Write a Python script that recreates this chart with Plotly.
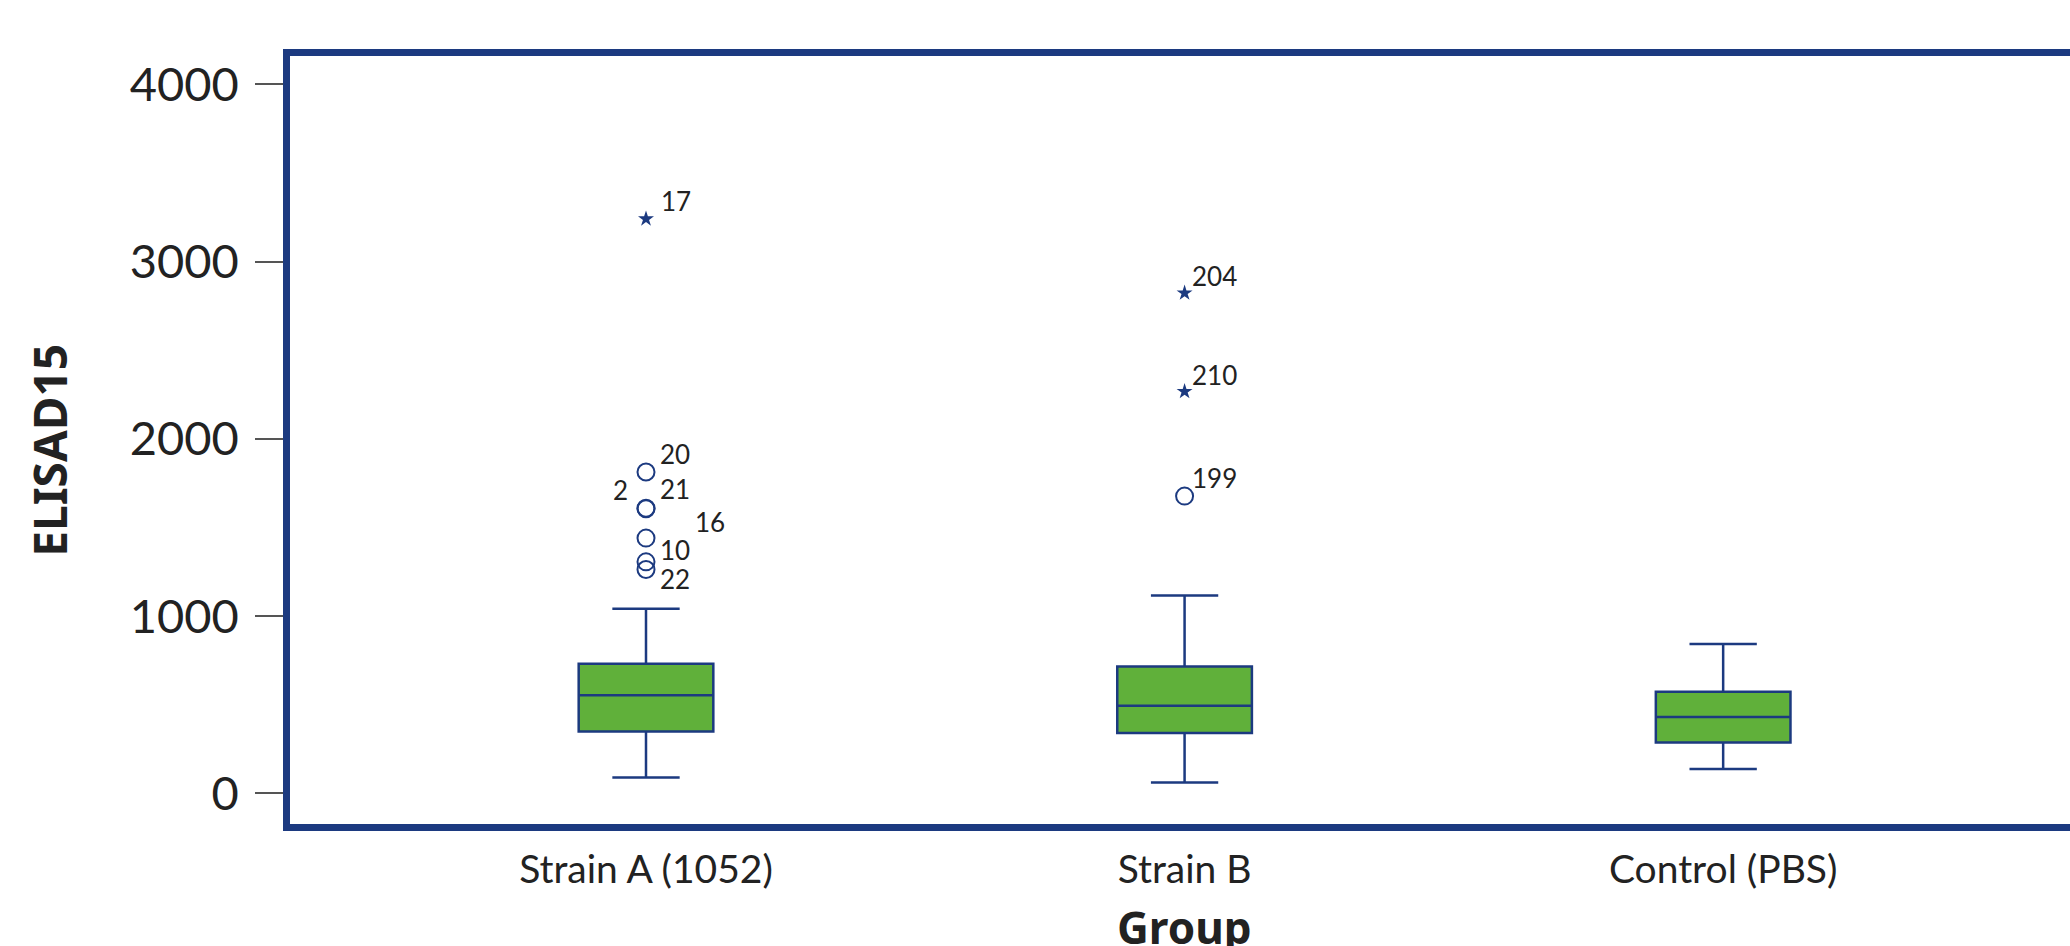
import plotly.graph_objects as go

# ---- data ----
groups = ["Strain A (1052)", "Strain B", "Control (PBS)"]
lower_whisker = [89, 61, 138]
q1 = [349, 340, 287]
median = [554, 494, 430]
q3 = [731, 716, 573]
upper_whisker = [1041, 1116, 843]

# mild outliers (open circles)
outlier_group = ["Strain A (1052)"] * 6 + ["Strain B"]
outlier_value = [1813, 1609, 1606, 1440, 1306, 1263, 1677]
outlier_id = ["20", "21", "2", "16", "10", "22", "199"]

# extreme outliers (stars)
extreme_group = ["Strain A (1052)", "Strain B", "Strain B"]
extreme_value = [3241, 2823, 2267]
extreme_id = ["17", "204", "210"]

y_ticks = [0, 1000, 2000, 3000, 4000]

# ---- styles ----
NAVY = "#1c3a80"
GREEN = "#60b03a"
TEXT = "#222222"
# label offsets in pixels (dx, dy), keyed by id
label_offsets = {
    "20": (29, 18), "21": (29, 19), "2": (-26, 19), "16": (64, 16),
    "10": (29, 12), "22": (29, -10), "199": (30, 18),
    "17": (30, 18), "204": (30, 17), "210": (30, 17),
}

fig = go.Figure()

fig.add_trace(go.Box(
    x=groups, q1=q1, median=median, q3=q3,
    lowerfence=lower_whisker, upperfence=upper_whisker,
    boxpoints=False, width=0.25, whiskerwidth=0.5,
    fillcolor=GREEN, line=dict(color=NAVY, width=2.5),
    showlegend=False, hoverinfo="skip",
))

fig.add_trace(go.Scatter(
    x=outlier_group, y=outlier_value, mode="markers",
    marker=dict(symbol="circle-open", size=17, color=NAVY, line=dict(width=2, color=NAVY)),
    showlegend=False, hoverinfo="skip",
))

fig.add_trace(go.Scatter(
    x=extreme_group, y=extreme_value, mode="markers",
    marker=dict(symbol="star", size=12, color=NAVY, line=dict(width=0)),
    showlegend=False, hoverinfo="skip",
))

annotations = []
for g, v, t in list(zip(outlier_group, outlier_value, outlier_id)) + list(zip(extreme_group, extreme_value, extreme_id)):
    dx, dy = label_offsets[t]
    annotations.append(dict(
        x=g, y=v, xref="x", yref="y", text=t, showarrow=False,
        xshift=dx, yshift=dy, xanchor="center", yanchor="middle",
        font=dict(family="Lato", size=26, color=TEXT),
    ))

# axis titles
annotations.append(dict(
    x=-0.1355, y=0.487, xref="paper", yref="paper", text="<b>ELISAD15</b>",
    textangle=-90, showarrow=False, xanchor="center", yanchor="middle",
    font=dict(family="Noto Sans", size=46, color=TEXT),
))
annotations.append(dict(
    x=groups[1], y=-0.134, xref="x", yref="paper", text="<b>Group</b>",
    showarrow=False, xanchor="center", yanchor="middle",
    font=dict(family="Noto Sans", size=44, color=TEXT),
))

fig.update_layout(
    width=2070, height=946,
    margin=dict(l=290, r=0, t=56, b=122),
    paper_bgcolor="white", plot_bgcolor="white",
    annotations=annotations,
    hovermode=False,
    xaxis=dict(
        type="category", categoryorder="array", categoryarray=groups,
        range=[-0.661, 2.644], showgrid=False, zeroline=False,
        showline=True, linecolor=NAVY, linewidth=6.5, mirror=True,
        ticks="", ticklabelstandoff=5,
        tickfont=dict(family="Lato", size=39, color=TEXT),
    ),
    yaxis=dict(
        range=[-173, 4160], tickvals=y_ticks, showgrid=False, zeroline=False,
        showline=True, linecolor=NAVY, linewidth=6.5, mirror=False,
        ticks="outside", ticklen=28, tickwidth=1.5, tickcolor="#555555",
        ticklabelstandoff=7,
        tickfont=dict(family="Lato", size=47, color=TEXT),
    ),
)

# remove the page's default body margin so the figure fills the window exactly
fig.write_html(
    "out.html",
    config={"displayModeBar": False},
    post_script="document.body.style.margin='0';document.body.style.overflow='hidden';",
)
